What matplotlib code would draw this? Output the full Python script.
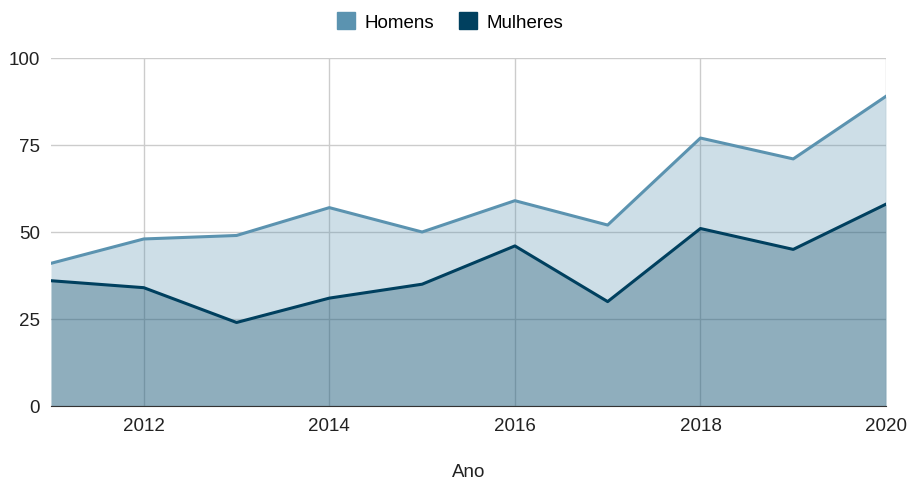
import matplotlib.pyplot as plt
from matplotlib.patches import Patch

plt.rcParams['font.family'] = ['Liberation Sans', 'DejaVu Sans']

anos = [2011, 2012, 2013, 2014, 2015, 2016, 2017, 2018, 2019, 2020]
homens = [41, 48, 49, 57, 50, 59, 52, 77, 71, 89]
mulheres = [36, 34, 24, 31, 35, 46, 30, 51, 45, 58]

cor_h = "#5b93b0"
cor_m = "#00405f"

fig = plt.figure(figsize=(9.11, 4.81), dpi=100)
ax = fig.add_axes([51 / 911, 1 - 407 / 481, 835 / 911, 348 / 481])

ax.fill_between(anos, homens, 0, color=cor_h, alpha=0.3, linewidth=0, zorder=2)
ax.plot(anos, homens, color=cor_h, linewidth=2.2, zorder=4)
ax.fill_between(anos, mulheres, 0, color=cor_m, alpha=0.3, linewidth=0, zorder=2)
ax.plot(anos, mulheres, color=cor_m, linewidth=2.2, zorder=4)

ax.set_xlim(2011, 2020)
ax.set_ylim(0, 100)
ax.set_xticks([2012, 2014, 2016, 2018, 2020])
ax.set_yticks([0, 25, 50, 75, 100])
ax.set_axisbelow(True)
ax.grid(True, color="#cccccc", linewidth=1, zorder=1)
for s in ["top", "right", "left"]:
    ax.spines[s].set_visible(False)
ax.spines["bottom"].set_color("#333333")
ax.spines["bottom"].set_zorder(5)
ax.tick_params(length=0, labelsize=13.5, colors="#222222", pad=8)
ax.set_xlabel("Ano", fontsize=13.5, color="#222222", labelpad=21)

handles = [Patch(color=cor_h, label="Homens"), Patch(color=cor_m, label="Mulheres")]
fig.legend(handles=handles, loc="upper center", bbox_to_anchor=(0.494, 1.008), ncol=2,
           frameon=False, fontsize=13.5, handlelength=1.0, handleheight=1.0,
           columnspacing=1.3, handletextpad=0.5)

plt.savefig("out.png", dpi=100)
